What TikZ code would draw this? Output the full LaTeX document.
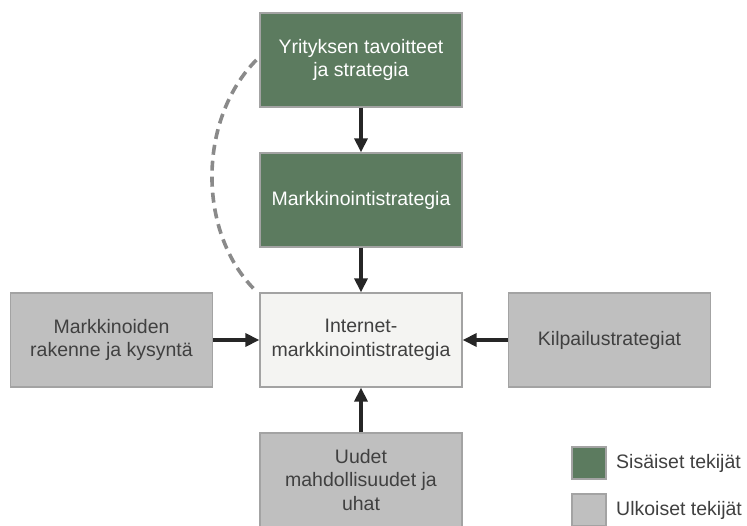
\documentclass[tikz,border=0pt]{standalone}
\usepackage{fontspec}
\setmainfont{Liberation Sans}
\usetikzlibrary{arrows.meta}
\definecolor{boxgreen}{HTML}{5C7B5F}
\definecolor{boxgray}{HTML}{BFBFBF}
\definecolor{boxlight}{HTML}{F4F4F2}
\definecolor{edgegray}{HTML}{A3A3A3}
\definecolor{txtgray}{HTML}{404040}
\definecolor{arrowdark}{HTML}{262626}
\definecolor{dashgray}{HTML}{8A8A8A}
\tikzset{
  base/.style={draw=edgegray, line width=1.3pt, minimum width=202pt, minimum height=94pt,
    align=center, inner sep=2pt, font=\fontsize{19.5}{23.5}\selectfont},
  inner/.style={base, fill=boxgreen, text=white},
  outer/.style={base, fill=boxgray, text=txtgray},
  core/.style={base, fill=boxlight, text=txtgray},
  flow/.style={draw=arrowdark, line width=3.6pt, -{Triangle[length=14pt,width=13pt]}},
  influence/.style={draw=dashgray, line width=3.6pt, dash pattern=on 10pt off 6pt},
  legbox/.style={draw=edgegray, line width=1.3pt, minimum width=34pt, minimum height=32pt, inner sep=0pt},
  legtext/.style={anchor=west, text=txtgray, font=\fontsize{19.5}{23.5}\selectfont, inner sep=0pt}
}
\begin{document}
\begin{tikzpicture}[x=1pt,y=1pt]
\useasboundingbox (0,0) rectangle (747,525);
\node[inner] (goals) at (361,465) {Yrityksen tavoitteet\\ja strategia};
\node[inner] (mstrat) at (361,325) {Markkinointistrategia};
\node[core] (inet) at (361,185) {Internet-\\markkinointistrategia};
\node[outer] (market) at (111.5,185) {Markkinoiden\\rakenne ja kysyntä};
\node[outer] (compet) at (609.5,185) {Kilpailustrategiat};
\node[outer] (opps) at (361,45) {Uudet\\mahdollisuudet ja\\uhat};
\draw[flow] (goals) -- (mstrat);
\draw[flow] (mstrat) -- (inet);
\draw[flow] (market) -- (inet);
\draw[flow] (compet) -- (inet);
\draw[flow] (opps) -- (inet);
\coordinate (dstart) at ([xshift=-3pt]goals.west);
\coordinate (dend) at ([xshift=-2pt]inet.north west);
\draw[influence] (dstart) .. controls (197,405) and (197,290) .. (dend);
\node[legbox, fill=boxgreen] (leg1) at (589,62) {};
\node[legtext] (leg1t) at (616,62) {Sisäiset tekijät};
\node[legbox, fill=boxgray] (leg2) at (589,15) {};
\node[legtext] (leg2t) at (616,15) {Ulkoiset tekijät};
\end{tikzpicture}
\end{document}
